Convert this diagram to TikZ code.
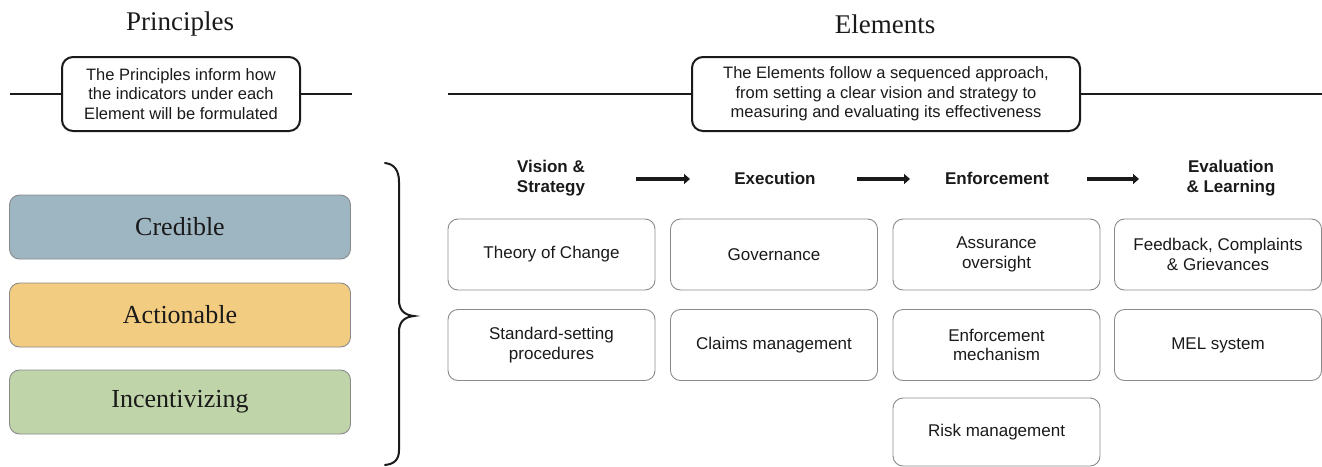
\documentclass[tikz,border=0pt]{standalone}
\usepackage{fontspec}
\setmainfont{Liberation Serif}
\setsansfont{Liberation Sans}
\usetikzlibrary{arrows.meta}
\definecolor{cred}{HTML}{9EB5C2}
\definecolor{act}{HTML}{F2CC80}
\definecolor{inc}{HTML}{C0D4A9}
\definecolor{ink}{HTML}{1A1A1A}
\definecolor{edge}{HTML}{8A8A8A}
\tikzset{
  title/.style={font=\fontsize{27}{30}\selectfont\rmfamily, text=ink, inner sep=0pt},
  callout/.style={draw=ink, line width=2pt, rounded corners=11pt, align=center,
    font=\fontsize{16.5}{19.5}\selectfont\sffamily, text=ink, inner sep=0pt},
  princ/.style={draw=edge, line width=0.9pt, rounded corners=10pt, minimum width=341pt,
    minimum height=64pt, inner sep=0pt, font=\fontsize{26}{28}\selectfont\rmfamily, text=ink},
  head/.style={font=\fontsize{17}{19.5}\selectfont\sffamily\bfseries, align=center, text=ink, inner sep=0pt},
  elem/.style={draw=edge, line width=0.9pt, rounded corners=10pt, minimum width=207pt,
    minimum height=71pt, inner sep=0pt, align=center, font=\fontsize{17}{19.5}\selectfont\sffamily, text=ink},
  rule/.style={draw=ink, line width=1.5pt},
  flow/.style={draw=ink, line width=3.5pt, -{Triangle[length=6pt,width=10pt]}},
  bracepath/.style={draw=ink, line width=2pt, line cap=round}
}
\begin{document}
\begin{tikzpicture}[x=1pt,y=-1pt]
\useasboundingbox (0,0) rectangle (1322,466);

% titles
\node[title] (tp) at (180,24) {Principles};
\node[title] (te) at (885,24) {Elements};

% callouts
\node[callout, minimum width=238pt, minimum height=74pt] (cp) at (181,94)
  {The Principles inform how\\the indicators under each\\Element will be formulated};
\node[callout, minimum width=388pt, minimum height=74pt] (ce) at (886,94)
  {The Elements follow a sequenced approach,\\from setting a clear vision and strategy to\\measuring and evaluating its effectiveness};

\coordinate (cpl) at (10,94);
\coordinate (cpr) at (352,94);
\coordinate (cel) at (448,94);
\coordinate (cer) at (1322,94);
\draw[rule] (cpl) -- (cp.west);
\draw[rule] (cp.east) -- (cpr);
\draw[rule] (cel) -- (ce.west);
\draw[rule] (ce.east) -- (cer);

% principles
\node[princ, fill=cred] (p1) at (180,227) {Credible};
\node[princ, fill=act] (p2) at (180,315) {Actionable};
\node[princ, fill=inc] (p3) at (180,402) {Incentivizing};

% brace
\draw[bracepath] (385,163) .. controls (394,164) and (399,170) .. (399,182)
  -- (399,300) .. controls (399,310) and (404,315) .. (414,316)
  .. controls (404,317) and (399,322) .. (399,332)
  -- (399,450) .. controls (399,460) and (394,464) .. (385,465);

% headers
\node[head] (h1) at (551,178) {Vision \&\\Strategy};
\node[head] (h2) at (775,178) {Execution};
\node[head] (h3) at (997,178) {Enforcement};
\node[head] (h4) at (1231,178) {Evaluation\\\& Learning};

\coordinate (a1s) at (636,179); \coordinate (a1e) at (690,179);
\coordinate (a2s) at (857,179); \coordinate (a2e) at (910,179);
\coordinate (a3s) at (1087,179); \coordinate (a3e) at (1139,179);
\draw[flow] (a1s) -- (a1e);
\draw[flow] (a2s) -- (a2e);
\draw[flow] (a3s) -- (a3e);

% element boxes
\node[elem] (e11) at (551.5,254.5) {Theory of Change};
\node[elem] (e12) at (551.5,345) {Standard-setting\\procedures};
\node[elem] (e21) at (774,254.5) {Governance};
\node[elem] (e22) at (774,345) {Claims management};
\node[elem] (e31) at (996.5,254.5) {Assurance\\oversight};
\node[elem] (e32) at (996.5,345) {Enforcement\\mechanism};
\node[elem, minimum height=68pt] (e33) at (996.5,432) {Risk management};
\node[elem] (e41) at (1218,254.5) {Feedback, Complaints\\\& Grievances};
\node[elem] (e42) at (1218,345) {MEL system};
\end{tikzpicture}
\end{document}
